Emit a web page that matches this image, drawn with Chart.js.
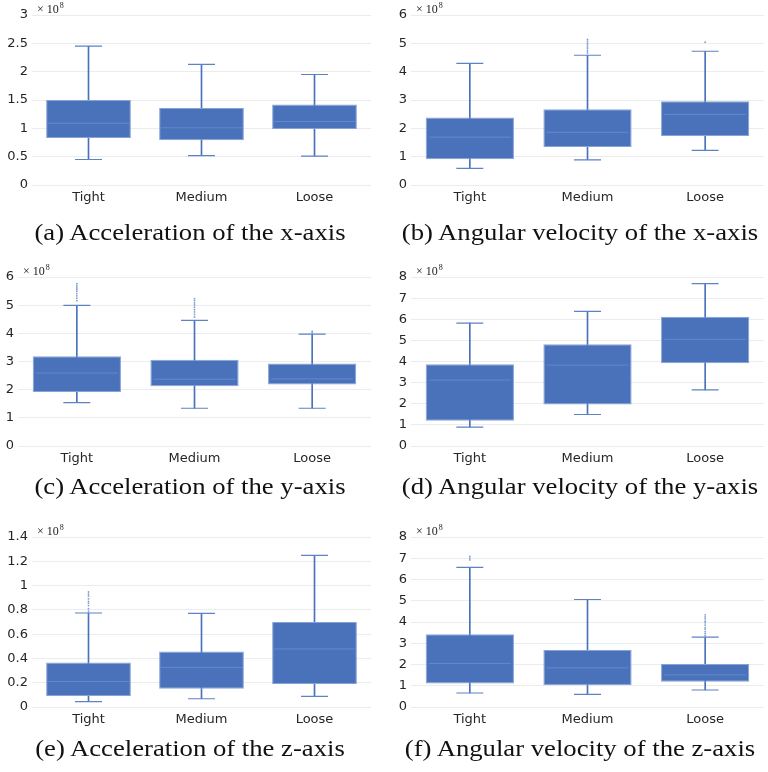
<!DOCTYPE html>
<html>
<head>
<meta charset="utf-8">
<script src="https://cdn.jsdelivr.net/npm/chart.js@4"></script>
<style>
  body { margin: 0; background: #fff; }
  #wrap { position: relative; width: 768px; height: 772px; }
  .panel { position: absolute; width: 384px; height: 257px; }
  .panel canvas { position: absolute; left: 0; top: 0; }
  .cap {
    position: absolute; left: 0; width: 384px; text-align: center;
    font-family: "Liberation Serif", "DejaVu Serif", serif; font-size: 23px; color: #111;
    white-space: nowrap; transform: scaleX(1.16); transform-origin: center;
  }
</style>
</head>
<body>
<div id="wrap"></div>
<script>
// 分类
const categories = ['Tight', 'Medium', 'Loose'];

// (a) Acceleration of the x-axis  (单位 ×10^8)
const accXLow = [0.45, 0.52, 0.51];
const accXQ1 = [0.83, 0.79, 0.99];
const accXMedian = [1.09, 1.01, 1.12];
const accXQ3 = [1.50, 1.36, 1.42];
const accXHigh = [2.45, 2.13, 1.95];
const accXOutliers = [[], [], []];

// (b) Angular velocity of the x-axis
const angXLow = [0.59, 0.89, 1.22];
const angXQ1 = [0.91, 1.34, 1.73];
const angXMedian = [1.69, 1.86, 2.49];
const angXQ3 = [2.38, 2.67, 2.96];
const angXHigh = [4.29, 4.58, 4.72];
const angXOutliers = [[], [4.66, 4.73, 4.81, 4.87, 4.95, 5.01, 5.08, 5.14], [5.04]];

// (c) Acceleration of the y-axis
const accYLow = [1.54, 1.34, 1.34];
const accYQ1 = [1.92, 2.12, 2.18];
const accYMedian = [2.59, 2.37, 2.38];
const accYQ3 = [3.19, 3.06, 2.93];
const accYHigh = [4.99, 4.46, 3.97];
const accYOutliers = [[5.16, 5.25, 5.33, 5.41, 5.49, 5.55, 5.61, 5.68, 5.76],
                      [4.58, 4.67, 4.76, 4.84, 4.93, 5.01, 5.08, 5.16, 5.23], [4.03, 4.08]];

// (d) Angular velocity of the y-axis
const angYLow = [0.89, 1.49, 2.66];
const angYQ1 = [1.20, 1.96, 3.92];
const angYMedian = [3.12, 3.83, 5.05];
const angYQ3 = [3.87, 4.82, 6.12];
const angYHigh = [5.82, 6.37, 7.69];
const angYOutliers = [[], [], []];

// (e) Acceleration of the z-axis
const accZLow = [0.044, 0.068, 0.088];
const accZQ1 = [0.090, 0.151, 0.190];
const accZMedian = [0.210, 0.326, 0.478];
const accZQ3 = [0.367, 0.458, 0.700];
const accZHigh = [0.774, 0.771, 1.249];
const accZOutliers = [[0.79, 0.81, 0.835, 0.855, 0.87, 0.89, 0.915, 0.93, 0.947], [], []];

// (f) Angular velocity of the z-axis
const angZLow = [0.66, 0.59, 0.80];
const angZQ1 = [1.11, 1.02, 1.19];
const angZMedian = [2.05, 1.84, 1.51];
const angZQ3 = [3.42, 2.68, 2.02];
const angZHigh = [6.57, 5.06, 3.29];
const angZOutliers = [[6.92, 7.01, 7.09], [],
                      [3.36, 3.46, 3.55, 3.66, 3.74, 3.85, 3.96, 4.04, 4.15, 4.24, 4.34]];

// 纵轴范围
const yMax = [3, 6, 6, 8, 1.4, 8];
const yStep = [0.5, 1, 1, 1, 0.2, 1];

const captions = [
    '(a) Acceleration of the x-axis',
    '(b) Angular velocity of the x-axis',
    '(c) Acceleration of the y-axis',
    '(d) Angular velocity of the y-axis',
    '(e) Acceleration of the z-axis',
    '(f) Angular velocity of the z-axis'
];

const panels = [
    { low: accXLow, q1: accXQ1, med: accXMedian, q3: accXQ3, high: accXHigh, out: accXOutliers },
    { low: angXLow, q1: angXQ1, med: angXMedian, q3: angXQ3, high: angXHigh, out: angXOutliers },
    { low: accYLow, q1: accYQ1, med: accYMedian, q3: accYQ3, high: accYHigh, out: accYOutliers },
    { low: angYLow, q1: angYQ1, med: angYMedian, q3: angYQ3, high: angYHigh, out: angYOutliers },
    { low: accZLow, q1: accZQ1, med: accZMedian, q3: accZQ3, high: accZHigh, out: accZOutliers },
    { low: angZLow, q1: angZQ1, med: angZMedian, q3: angZQ3, high: angZHigh, out: angZOutliers }
];

// 版面：面板位置、绘图区
const panelTop = [0, 0, 255, 255, 515, 515];
const plotLeft = [32, 27, 18, 27, 32, 27];
const plotRight = [371, 380, 371, 380, 371, 380];
const plotTop = [15, 15, 22, 22, 22, 22];
const plotBottom = [185, 185, 191, 191, 192, 192];
const captionTop = [220, 220, 219, 219, 221, 221];
const CANVAS_H = 225;
const X_AXIS_H = 30;

const BLUE = '#4a72bb';

Chart.defaults.font.family = '"DejaVu Sans", Verdana, sans-serif';
Chart.defaults.font.size = 13;
Chart.defaults.color = '#262626';

// ×10^8 标记
const exponentLabel = {
    id: 'exponentLabel',
    afterDraw(chart) {
        const ctx = chart.ctx;
        const a = chart.chartArea;
        ctx.save();
        ctx.fillStyle = '#222';
        ctx.textBaseline = 'alphabetic';
        ctx.font = '12px "Liberation Serif", serif';
        const base = '\u00d7 10';
        ctx.fillText(base, a.left + 5, a.top - 2);
        const w = ctx.measureText(base).width;
        ctx.font = '8px "Liberation Serif", serif';
        ctx.fillText('8', a.left + 6 + w, a.top - 7);
        ctx.restore();
    }
};

const wrap = document.getElementById('wrap');

panels.forEach((p, i) => {
    const col = i % 2;
    const div = document.createElement('div');
    div.className = 'panel';
    div.style.left = (col * 384) + 'px';
    div.style.top = panelTop[i] + 'px';
    const canvas = document.createElement('canvas');
    canvas.width = 384;
    canvas.height = CANVAS_H;
    div.appendChild(canvas);
    const cap = document.createElement('div');
    cap.className = 'cap';
    cap.style.top = captionTop[i] + 'px';
    cap.style.left = (col ? 4 : -2) + 'px';
    cap.textContent = captions[i];
    div.appendChild(cap);
    wrap.appendChild(div);

    const outlierPoints = [];
    p.out.forEach((list, c) => list.forEach(v => outlierPoints.push({ x: categories[c], y: v })));

    new Chart(canvas, {
        type: 'bar',
        data: {
            labels: categories,
            datasets: [
                {
                    // 须线
                    type: 'bar',
                    data: p.low.map((v, c) => [v, p.high[c]]),
                    backgroundColor: BLUE,
                    barThickness: 1,
                    grouped: false,
                    order: 5
                },
                {
                    // 箱体
                    type: 'bar',
                    data: p.q1.map((v, c) => [v, p.q3[c]]),
                    backgroundColor: BLUE,
                    borderColor: '#87a3d6',
                    borderWidth: 1,
                    borderSkipped: false,
                    barPercentage: 0.75,
                    categoryPercentage: 1,
                    grouped: false,
                    order: 4
                },
                {
                    // 下端横线
                    type: 'line',
                    data: p.low,
                    showLine: false,
                    pointStyle: 'line',
                    pointRadius: 13.5,
                    pointBorderColor: '#5d82c6',
                    pointBorderWidth: 1.2,
                    order: 3
                },
                {
                    // 上端横线
                    type: 'line',
                    data: p.high,
                    showLine: false,
                    pointStyle: 'line',
                    pointRadius: 13.5,
                    pointBorderColor: '#5d82c6',
                    pointBorderWidth: 1.2,
                    order: 3
                },
                {
                    // 中位数
                    type: 'line',
                    data: p.med,
                    showLine: false,
                    pointStyle: 'line',
                    pointRadius: 41,
                    pointBorderColor: '#6389cc',
                    pointBorderWidth: 1,
                    order: 2
                },
                {
                    // 离群值
                    type: 'line',
                    data: outlierPoints,
                    showLine: false,
                    pointStyle: 'circle',
                    pointRadius: 0.9,
                    pointBorderWidth: 0,
                    pointBackgroundColor: '#7f9dd6',
                    order: 1
                }
            ]
        },
        options: {
            responsive: false,
            animation: false,
            events: [],
            layout: {
                autoPadding: false,
                padding: {
                    top: plotTop[i],
                    left: 0,
                    right: 384 - plotRight[i],
                    bottom: CANVAS_H - plotBottom[i] - X_AXIS_H
                }
            },
            scales: {
                x: {
                    offset: true,
                    grid: { display: false, drawTicks: false },
                    border: { display: false },
                    ticks: { padding: 5, maxRotation: 0 },
                    afterFit(scale) { scale.height = X_AXIS_H; }
                },
                y: {
                    min: 0,
                    max: yMax[i],
                    grid: { color: '#ececec', drawTicks: false },
                    border: { display: false },
                    ticks: {
                        stepSize: yStep[i],
                        padding: 4,
                        autoSkip: false,
                        callback: v => String(Number(v.toFixed(2)))
                    },
                    afterFit(scale) { scale.width = plotLeft[i]; }
                }
            },
            plugins: {
                legend: { display: false },
                tooltip: { enabled: false }
            }
        },
        plugins: [exponentLabel]
    });
});
</script>
</body>
</html>
